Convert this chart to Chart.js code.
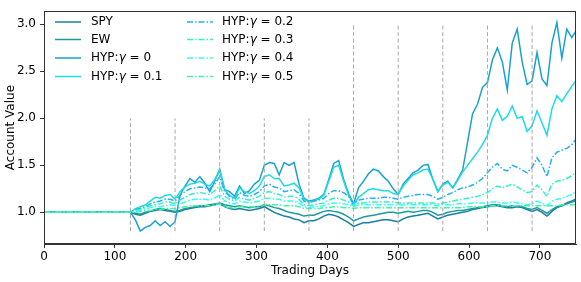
<!DOCTYPE html>
<html>
<head>
<meta charset="utf-8">
<script src="https://cdn.jsdelivr.net/npm/chart.js@4"></script>
<style>
  html, body { margin: 0; padding: 0; background: #fff; }
  #wrap { width: 581px; height: 282px; }
</style>
</head>
<body>
<div id="wrap"><canvas id="accountChart" width="581" height="282"></canvas></div>
<script>
// trading days sampled from the curves
const days = [
    0, 122, 129, 136, 143, 150, 157, 164, 171, 178,
    185, 192, 199, 206, 213, 220, 227, 234, 241, 248,
    255, 262, 269, 276, 283, 290, 297, 304, 311, 318,
    325, 332, 339, 346, 353, 360, 367, 374, 381, 388,
    395, 402, 409, 416, 423, 430, 437, 444, 451, 458,
    465, 472, 479, 486, 493, 500, 507, 514, 521, 528,
    535, 542, 549, 556, 563, 570, 577, 584, 591, 598,
    605, 612, 619, 626, 633, 640, 647, 654, 661, 668,
    675, 682, 689, 696, 703, 710, 717, 724, 731, 738,
    745, 751
];

const spy = [
    1.00, 1.00, 0.98, 0.97, 0.99, 1.01, 1.02, 1.03, 1.02, 1.01,
    1.00, 1.01, 1.03, 1.04, 1.05, 1.06, 1.06, 1.07, 1.08, 1.09,
    1.06, 1.04, 1.03, 1.04, 1.03, 1.02, 1.03, 1.04, 1.06, 1.03,
    1.00, 0.98, 0.96, 0.95, 0.93, 0.92, 0.89, 0.91, 0.91, 0.93,
    0.96, 0.98, 0.97, 0.95, 0.92, 0.89, 0.85, 0.87, 0.89, 0.89,
    0.90, 0.91, 0.92, 0.92, 0.91, 0.90, 0.93, 0.95, 0.96, 0.97,
    0.98, 0.99, 0.96, 0.93, 0.95, 0.97, 0.98, 0.99, 1.00, 1.01,
    1.03, 1.04, 1.05, 1.06, 1.07, 1.07, 1.06, 1.05, 1.05, 1.06,
    1.05, 1.03, 1.01, 1.03, 1.00, 0.96, 1.01, 1.05, 1.07, 1.10,
    1.12, 1.14
];

const ew = [
    1.00, 1.00, 0.99, 0.98, 1.00, 1.01, 1.03, 1.04, 1.03, 1.02,
    1.01, 1.02, 1.04, 1.05, 1.06, 1.07, 1.07, 1.08, 1.09, 1.10,
    1.08, 1.07, 1.06, 1.07, 1.06, 1.05, 1.06, 1.06, 1.08, 1.07,
    1.05, 1.04, 1.02, 1.00, 0.99, 0.98, 0.96, 0.97, 0.97, 0.99,
    1.01, 1.02, 1.01, 1.00, 0.98, 0.95, 0.91, 0.93, 0.95, 0.96,
    0.97, 0.98, 0.99, 1.00, 1.00, 0.99, 1.00, 1.01, 1.00, 1.01,
    1.02, 1.02, 1.00, 0.97, 0.98, 1.00, 1.01, 1.02, 1.02, 1.03,
    1.04, 1.05, 1.06, 1.07, 1.08, 1.08, 1.07, 1.06, 1.07, 1.07,
    1.06, 1.04, 1.03, 1.05, 1.02, 0.99, 1.03, 1.06, 1.07, 1.09,
    1.11, 1.12
];

const hyp0 = [
    1.00, 1.00, 0.92, 0.80, 0.84, 0.86, 0.91, 0.86, 0.90, 0.85,
    0.90, 1.18, 1.28, 1.36, 1.32, 1.38, 1.31, 1.22, 1.33, 1.46,
    1.24, 1.22, 1.17, 1.28, 1.20, 1.23, 1.30, 1.34, 1.50, 1.53,
    1.52, 1.40, 1.53, 1.50, 1.53, 1.30, 1.15, 1.12, 1.13, 1.15,
    1.19, 1.35, 1.52, 1.55, 1.35, 1.20, 1.09, 1.26, 1.33, 1.41,
    1.46, 1.44, 1.38, 1.33, 1.25, 1.19, 1.30, 1.36, 1.42, 1.45,
    1.50, 1.51, 1.35, 1.22, 1.30, 1.33, 1.26, 1.35, 1.45, 1.75,
    2.05, 2.15, 2.33, 2.38, 2.62, 2.75, 2.60, 2.30, 2.80, 2.95,
    2.60, 2.36, 2.40, 2.70, 2.42, 2.35, 2.80, 3.02, 2.64, 2.95,
    2.86, 2.93
];

const hyp1 = [
    1.00, 1.00, 1.04, 1.06, 1.08, 1.12, 1.16, 1.15, 1.18, 1.19,
    1.14, 1.22, 1.27, 1.30, 1.31, 1.33, 1.30, 1.28, 1.35, 1.44,
    1.24, 1.18, 1.15, 1.26, 1.22, 1.20, 1.23, 1.28, 1.38, 1.40,
    1.36, 1.36, 1.28, 1.29, 1.31, 1.26, 1.14, 1.11, 1.12, 1.14,
    1.18, 1.33, 1.48, 1.50, 1.33, 1.18, 1.08, 1.16, 1.20, 1.24,
    1.25, 1.24, 1.23, 1.23, 1.20, 1.19, 1.28, 1.34, 1.40, 1.42,
    1.45, 1.46, 1.35, 1.22, 1.29, 1.32, 1.26, 1.34, 1.43, 1.50,
    1.57, 1.64, 1.72, 1.82, 2.00, 2.10, 1.98, 2.02, 2.13, 2.00,
    2.02, 1.86, 1.92, 2.08, 1.95, 1.82, 2.10, 2.24, 2.18, 2.26,
    2.34, 2.40
];

const hyp2 = [
    1.00, 1.00, 1.03, 1.04, 1.06, 1.09, 1.11, 1.12, 1.14, 1.14,
    1.12, 1.18, 1.22, 1.25, 1.26, 1.27, 1.26, 1.25, 1.30, 1.38,
    1.22, 1.17, 1.14, 1.21, 1.18, 1.17, 1.19, 1.22, 1.28, 1.30,
    1.27, 1.26, 1.22, 1.23, 1.24, 1.20, 1.12, 1.10, 1.12, 1.13,
    1.15, 1.20, 1.23, 1.23, 1.21, 1.17, 1.09, 1.13, 1.14, 1.15,
    1.15, 1.15, 1.16, 1.16, 1.15, 1.14, 1.16, 1.17, 1.18, 1.19,
    1.19, 1.19, 1.17, 1.14, 1.16, 1.19, 1.21, 1.24, 1.26, 1.27,
    1.29, 1.32, 1.36, 1.42, 1.48, 1.52, 1.46, 1.44, 1.50, 1.48,
    1.45, 1.42, 1.48, 1.58, 1.50, 1.38, 1.58, 1.64, 1.66, 1.68,
    1.72, 1.78
];

const hyp3 = [
    1.00, 1.00, 1.02, 1.03, 1.05, 1.07, 1.08, 1.09, 1.11, 1.11,
    1.09, 1.13, 1.16, 1.19, 1.20, 1.21, 1.20, 1.19, 1.23, 1.28,
    1.17, 1.14, 1.12, 1.16, 1.14, 1.13, 1.15, 1.17, 1.21, 1.22,
    1.20, 1.19, 1.16, 1.17, 1.17, 1.14, 1.08, 1.07, 1.08, 1.09,
    1.10, 1.13, 1.15, 1.15, 1.13, 1.11, 1.07, 1.10, 1.10, 1.11,
    1.11, 1.11, 1.11, 1.11, 1.11, 1.10, 1.10, 1.10, 1.10, 1.10,
    1.10, 1.10, 1.10, 1.09, 1.10, 1.11, 1.12, 1.13, 1.14, 1.15,
    1.16, 1.17, 1.19, 1.21, 1.25, 1.28, 1.26, 1.28, 1.30, 1.27,
    1.24, 1.21, 1.22, 1.29, 1.24, 1.17, 1.30, 1.33, 1.34, 1.36,
    1.39, 1.43
];

const hyp4 = [
    1.00, 1.00, 1.01, 1.02, 1.03, 1.05, 1.06, 1.06, 1.07, 1.08,
    1.07, 1.09, 1.11, 1.13, 1.14, 1.14, 1.14, 1.13, 1.15, 1.19,
    1.12, 1.10, 1.09, 1.12, 1.11, 1.10, 1.11, 1.12, 1.15, 1.15,
    1.14, 1.14, 1.12, 1.12, 1.12, 1.10, 1.06, 1.05, 1.06, 1.06,
    1.07, 1.09, 1.10, 1.10, 1.09, 1.08, 1.06, 1.08, 1.08, 1.08,
    1.08, 1.08, 1.08, 1.08, 1.08, 1.08, 1.08, 1.08, 1.08, 1.08,
    1.08, 1.08, 1.08, 1.07, 1.08, 1.08, 1.08, 1.09, 1.09, 1.09,
    1.10, 1.10, 1.10, 1.10, 1.11, 1.11, 1.10, 1.10, 1.11, 1.10,
    1.09, 1.08, 1.09, 1.12, 1.10, 1.07, 1.12, 1.14, 1.15, 1.17,
    1.19, 1.22
];

const hyp5 = [
    1.00, 1.00, 1.00, 1.01, 1.02, 1.02, 1.03, 1.03, 1.04, 1.04,
    1.04, 1.05, 1.06, 1.07, 1.07, 1.07, 1.07, 1.07, 1.08, 1.09,
    1.06, 1.05, 1.05, 1.06, 1.06, 1.06, 1.06, 1.07, 1.08, 1.08,
    1.08, 1.08, 1.07, 1.07, 1.07, 1.06, 1.04, 1.04, 1.04, 1.04,
    1.05, 1.05, 1.06, 1.06, 1.05, 1.05, 1.04, 1.05, 1.05, 1.05,
    1.05, 1.05, 1.05, 1.05, 1.05, 1.05, 1.05, 1.05, 1.05, 1.05,
    1.05, 1.05, 1.05, 1.05, 1.05, 1.05, 1.05, 1.05, 1.05, 1.06,
    1.06, 1.06, 1.06, 1.06, 1.07, 1.07, 1.07, 1.07, 1.07, 1.07,
    1.07, 1.07, 1.07, 1.07, 1.07, 1.07, 1.07, 1.07, 1.08, 1.08,
    1.08, 1.08
];

// rebalancing marks (dashed verticals)
const rebalanceDays = [122, 185, 248, 311, 374, 437, 500, 563, 626, 689];
const rebalanceTop = [2.0, 2.0, 2.0, 2.0, 2.0, 3.0, 3.0, 3.0, 3.0, 3.0];
const rebalanceBottom = 0.8;

const xTicks = [0, 100, 200, 300, 400, 500, 600, 700];
const yTicks = [1.0, 1.5, 2.0, 2.5, 3.0];

const seriesNames = ['SPY', 'EW', 'HYP:γ = 0', 'HYP:γ = 0.1', 'HYP:γ = 0.2', 'HYP:γ = 0.3', 'HYP:γ = 0.4', 'HYP:γ = 0.5'];
const seriesValues = [spy, ew, hyp0, hyp1, hyp2, hyp3, hyp4, hyp5];
const seriesColors = ['#1a7fa2', '#1c9b9e', '#1ba1cf', '#1edde2', '#22b2f2', '#30f2c6', '#3afafa', '#42f5a0'];
const dashDot = [6, 2, 1.5, 2];

const FONT = "'DejaVu Sans', sans-serif";

const datasets = seriesValues.map(function(vals, i) {
    return {
        label: seriesNames[i],
        data: days.map((d, j) => ({ x: d, y: vals[j] })),
        borderColor: seriesColors[i],
        borderWidth: 1.5,
        borderDash: i >= 4 ? dashDot : [],
        pointRadius: 0,
        tension: 0,
        fill: false,
        order: 20 - i
    };
});

// vertical dashed lines, separated by null points
const vlineData = [];
rebalanceDays.forEach(function(d, i) {
    vlineData.push({ x: d, y: rebalanceBottom });
    vlineData.push({ x: d, y: rebalanceTop[i] });
    vlineData.push({ x: d, y: null });
});
datasets.push({
    label: 'rebalance',
    data: vlineData,
    borderColor: '#a8a8a8',
    borderWidth: 1,
    borderDash: [4, 2.5],
    pointRadius: 0,
    spanGaps: false,
    order: 0
});

// frame + two column legend like matplotlib
const framePlugin = {
    id: 'frame',
    afterDraw(chart) {
        const ctx = chart.ctx;
        const a = chart.chartArea;
        ctx.save();
        ctx.strokeStyle = '#333';
        ctx.lineWidth = 1;
        ctx.strokeRect(Math.round(a.left) + 0.5, Math.round(a.top) + 0.5,
            Math.round(a.right - a.left) - 1, Math.round(a.bottom - a.top) - 1);

        const rows = [22, 39.5, 58, 76.5];
        const cols = [{ line: 55, text: 91 }, { line: 187, text: 222 }];
        ctx.textBaseline = 'middle';
        for (let i = 0; i < seriesNames.length; i++) {
            const c = cols[Math.floor(i / 4)];
            const y = rows[i % 4];
            ctx.beginPath();
            ctx.strokeStyle = seriesColors[i];
            ctx.lineWidth = 1.5;
            ctx.setLineDash(i >= 4 ? dashDot : []);
            ctx.moveTo(c.line, y);
            ctx.lineTo(c.line + 26, y);
            ctx.stroke();
            ctx.setLineDash([]);

            ctx.fillStyle = '#000';
            const name = seriesNames[i];
            let x = c.text;
            if (name.indexOf('γ') >= 0) {
                const parts = name.split('γ');
                ctx.font = '12px ' + FONT;
                ctx.fillText(parts[0], x, y);
                x += ctx.measureText(parts[0]).width;
                ctx.font = 'italic 12px ' + FONT;
                ctx.fillText('γ', x, y);
                x += ctx.measureText('γ').width;
                ctx.font = '12px ' + FONT;
                ctx.fillText(parts[1], x, y);
            } else {
                ctx.font = '12px ' + FONT;
                ctx.fillText(name, x, y);
            }
        }
        ctx.restore();
    }
};

const ctx = document.getElementById('accountChart').getContext('2d');
new Chart(ctx, {
    type: 'line',
    data: { datasets: datasets },
    options: {
        responsive: false,
        animation: false,
        layout: { padding: { top: 5, right: 5, left: 0, bottom: 0 } },
        plugins: {
            legend: { display: false },
            tooltip: { enabled: false }
        },
        scales: {
            x: {
                type: 'linear',
                min: 0,
                max: 751,
                afterBuildTicks: function(s) { s.ticks = xTicks.map(v => ({ value: v })); },
                afterFit: function(s) { s.height = 38; },
                ticks: {
                    font: { family: FONT, size: 12 },
                    color: '#000',
                    padding: 2,
                    maxRotation: 0
                },
                grid: { display: true, drawOnChartArea: false, tickLength: 4, color: '#333' },
                border: { display: true, color: '#333' },
                title: {
                    display: true,
                    text: 'Trading Days',
                    font: { family: FONT, size: 12 },
                    color: '#000',
                    padding: { top: 0, bottom: 4 }
                }
            },
            y: {
                min: 0.663,
                max: 3.14,
                afterBuildTicks: function(s) { s.ticks = yTicks.map(v => ({ value: v })); },
                afterFit: function(s) { s.width = 44; },
                ticks: {
                    font: { family: FONT, size: 12 },
                    color: '#000',
                    padding: 4,
                    callback: v => v.toFixed(1)
                },
                grid: { display: true, drawOnChartArea: false, tickLength: 4, color: '#333' },
                border: { display: true, color: '#333' },
                title: {
                    display: true,
                    text: 'Account Value',
                    font: { family: FONT, size: 12 },
                    color: '#000',
                    padding: { top: 4, bottom: 0 }
                }
            }
        }
    },
    plugins: [framePlugin]
});
</script>
</body>
</html>
